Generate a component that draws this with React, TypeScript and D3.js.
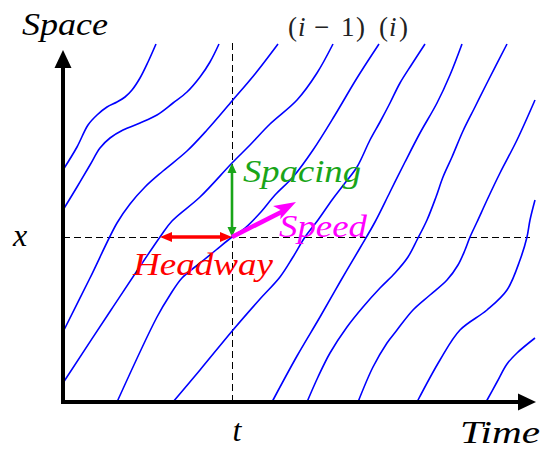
import React from 'react';
import * as d3 from 'd3';

type Pt = [number, number];

// Domain: time 0..47.2, space 0..35.8 (arbitrary units)
const T_MAX = 47.2;
const S_MAX = 35.8;

// Vehicle trajectories [time, space]
const veh1: Pt[] = [[0, 23.2], [1.4, 25.5], [2.5, 27.7], [3.4, 28.7], [4.4, 29.5], [5.4, 30.0], [6.2, 30.5], [6.9, 31.2], [7.7, 32.4], [8.5, 34.0], [9.3, 35.8]];
const veh2: Pt[] = [[0, 19.2], [1.4, 21.5], [2.7, 23.7], [3.7, 25.4], [4.7, 26.4], [6.0, 27.2], [7.7, 27.9], [9.4, 28.7], [11.0, 29.9], [12.4, 31.0], [13.7, 32.5], [14.7, 34.0], [15.6, 35.8]];
const veh3: Pt[] = [[0, 7.0], [2.7, 12.4], [5.4, 17.9], [6.7, 19.8], [8.2, 21.5], [10.0, 23.1], [12.4, 25.1], [14.4, 27.2], [16.9, 30.1], [19.2, 32.8], [21.5, 35.8]];
const veh4: Pt[] = [[0, 1.9], [4.8, 9.2], [9.7, 16.5], [10.9, 18.1], [13.7, 20.5], [16.9, 23.9], [18.7, 25.7], [20.7, 27.8], [23.4, 30.2], [25.4, 32.9], [27.0, 35.8]];
const veh5: Pt[] = [[5.4, 0], [9.4, 8.5], [10.7, 10.7], [11.9, 12.4], [13.7, 13.9], [15.3, 15.2], [16.9, 16.5], [18.2, 17.4], [19.7, 18.9], [21.2, 20.7], [23.0, 22.5], [25.0, 25.2], [27.2, 28.7], [29.4, 32.4], [31.6, 35.8]];
const veh6: Pt[] = [[11.0, 0], [13.7, 3.2], [17.0, 7.2], [19.7, 10.3], [21.7, 12.5], [23.0, 14.5], [24.2, 16.5], [25.5, 18.2], [26.9, 20.2], [28.2, 21.9], [29.4, 23.5], [30.7, 26.2], [31.7, 28.0], [32.7, 29.9], [33.7, 31.9], [34.9, 33.8], [36.2, 35.8]];
const veh7: Pt[] = [[20.9, 0], [23.4, 4.6], [25.7, 8.5], [27.7, 12.0], [29.7, 15.4], [31.2, 18.0], [32.7, 21.0], [34.2, 24.0], [35.7, 26.9], [37.4, 29.9], [38.7, 32.7], [39.9, 35.8]];
const veh8: Pt[] = [[24.4, 0], [25.5, 2.5], [26.7, 4.9], [28.4, 7.5], [30.0, 9.5], [31.7, 11.4], [33.2, 12.9], [34.5, 14.5], [35.4, 16.2], [36.4, 18.2], [37.3, 20.5], [38.0, 22.5], [38.9, 24.5], [40.0, 27.1], [41.2, 29.5], [42.4, 31.9], [44.4, 35.8]];
const veh9: Pt[] = [[29.5, 0], [31.0, 3.5], [32.4, 5.9], [33.4, 7.2], [35.0, 9.2], [36.7, 10.7], [38.4, 12.2], [39.5, 13.7], [40.2, 15.2], [40.7, 16.5], [41.4, 18.0], [42.5, 20.4], [43.7, 22.9], [45.4, 26.2], [47.2, 30.2]];
const veh10: Pt[] = [[35.4, 0], [37.7, 4.2], [39.7, 7.2], [42.4, 9.2], [44.4, 11.2], [45.7, 14.2], [46.4, 16.5], [46.7, 18.2], [47.2, 20.2]];
const veh11: Pt[] = [[42.3, 0], [43.4, 2.0], [44.4, 3.8], [45.4, 4.9], [47.2, 6.4]];

const trajectories: Pt[][] = [veh1, veh2, veh3, veh4, veh5, veh6, veh7, veh8, veh9, veh10, veh11];

// Observation point (t, x) and related quantities
const T_OBS = 16.9;
const X_OBS = 16.5;
const LEADER_TIME_AT_X = 9.7; // leader (i-1) passes x
const LEADER_POS_AT_T = 23.9; // leader (i-1) position at t
const SPEED_TIP: Pt = [23.3, 20.0];

const axisLabels = { space: 'Space', time: 'Time', t: 't', x: 'x' };
const annLabels = { spacing: 'Spacing', headway: 'Headway', speed: 'Speed' };

const FONT = "Liberation Serif, Tinos, Times New Roman, Times, DejaVu Serif, serif";
const BLUE = '#0000ff';
const GREEN = '#19a519';
const RED = '#ff0000';
const MAGENTA = '#ff00ff';

function headPath(tx: number, ty: number, fx: number, fy: number, len: number, hw: number, notch = 0) {
  const dx = tx - fx, dy = ty - fy;
  const L = Math.hypot(dx, dy);
  const ux = dx / L, uy = dy / L;
  const bx = tx - ux * len, by = ty - uy * len;
  const nx = tx - ux * (len - notch), ny = ty - uy * (len - notch);
  return `M${tx},${ty}L${bx - uy * hw},${by + ux * hw}L${nx},${ny}L${bx + uy * hw},${by - ux * hw}Z`;
}

function shorten(tx: number, ty: number, fx: number, fy: number, d: number): Pt {
  const dx = tx - fx, dy = ty - fy;
  const L = Math.hypot(dx, dy);
  return [tx - (dx / L) * d, ty - (dy / L) * d];
}

export default function App() {
  const x = d3.scaleLinear().domain([0, T_MAX]).range([63, 535]);
  const y = d3.scaleLinear().domain([0, S_MAX]).range([402, 44]);
  const line = d3
    .line<Pt>()
    .x((d) => x(d[0]))
    .y((d) => y(d[1]))
    .curve(d3.curveCatmullRom.alpha(0.5));

  const ox = x(0), oy = y(0);
  const px = x(T_OBS), py = y(X_OBS);
  const crispX = Math.round(px) + 0.5;
  const crispY = Math.round(py) + 0.5;

  // Headway arrow
  const hL = x(LEADER_TIME_AT_X);
  // Spacing arrow
  const sTop = y(LEADER_POS_AT_T);
  // Speed arrow
  const spx = x(SPEED_TIP[0]), spy = y(SPEED_TIP[1]);
  const spBase = shorten(spx, spy, px, py, 16);

  return (
    <svg width={543} height={450} style={{ position: 'absolute', left: 0, top: 0, background: '#fff' }}>
      <rect width={543} height={450} fill="#fff" />
      {/* dashed guides */}
      <line x1={crispX} x2={crispX} y1={y(S_MAX) - 1} y2={oy} stroke="#000" strokeWidth={1} strokeDasharray="7,4" />
      <line x1={ox} x2={x(46.7)} y1={crispY} y2={crispY} stroke="#000" strokeWidth={1} strokeDasharray="7,4" />

      {/* trajectories */}
      {trajectories.map((tr, i) => (
        <path key={i} d={line(tr) || ''} fill="none" stroke={BLUE} strokeWidth={1.6} />
      ))}

      {/* axes */}
      <line x1={ox} x2={ox} y1={oy + 2} y2={64} stroke="#000" strokeWidth={4} />
      <path d={headPath(ox, 50, ox, oy, 18, 8.5)} fill="#000" />
      <line x1={ox - 2} x2={522} y1={oy} y2={oy} stroke="#000" strokeWidth={4} />
      <path d={headPath(536, oy, ox, oy, 18, 8.5)} fill="#000" />

      {/* headway arrow */}
      <line x1={hL + 9} x2={px - 9} y1={py} y2={py} stroke={RED} strokeWidth={3.5} />
      <path d={headPath(hL, py, px, py, 12, 5)} fill={RED} />
      <path d={headPath(px, py, hL, py, 12, 5)} fill={RED} />

      {/* spacing arrow */}
      <line x1={px} x2={px} y1={py - 8} y2={sTop + 8} stroke={GREEN} strokeWidth={2.6} />
      <path d={headPath(px, sTop, px, py, 10, 4.5)} fill={GREEN} />
      <path d={headPath(px, py, px, sTop, 10, 4.5)} fill={GREEN} />

      {/* speed arrow */}
      <line x1={px} y1={py} x2={spBase[0] + 2} y2={spBase[1] + 1} stroke={MAGENTA} strokeWidth={4.5} />
      <path d={headPath(spx, spy, px, py, 22, 7.5, 5)} fill={MAGENTA} />

      {/* text labels */}
      <g fontFamily={FONT} fontStyle="italic" fontSize={32}>
        <text x={ox - 41} y={35} textLength={86} lengthAdjust="spacingAndGlyphs">{axisLabels.space}</text>
        <text x={460} y={443} textLength={80} lengthAdjust="spacingAndGlyphs">{axisLabels.time}</text>
        <text x={px + 5} y={441} textAnchor="middle">{axisLabels.t}</text>
        <text x={20} y={246} textAnchor="middle">{axisLabels.x}</text>
        <text x={243} y={182} fill={GREEN} textLength={118} lengthAdjust="spacingAndGlyphs">{annLabels.spacing}</text>
        <text x={133} y={275} fill={RED} textLength={140} lengthAdjust="spacingAndGlyphs">{annLabels.headway}</text>
        <text x={279} y={237} fill={MAGENTA} textLength={88} lengthAdjust="spacingAndGlyphs">{annLabels.speed}</text>
      </g>
      <g fontFamily={FONT} fontSize={27} fill="#222">
        <text y={36}>
          <tspan x={288}>(</tspan>
          <tspan x={298} fontStyle="italic">i</tspan>
          <tspan x={314}>−</tspan>
          <tspan x={341}>1</tspan>
          <tspan x={356}>)</tspan>
        </text>
        <text y={36}>
          <tspan x={379}>(</tspan>
          <tspan x={389} fontStyle="italic">i</tspan>
          <tspan x={399}>)</tspan>
        </text>
      </g>
    </svg>
  );
}
